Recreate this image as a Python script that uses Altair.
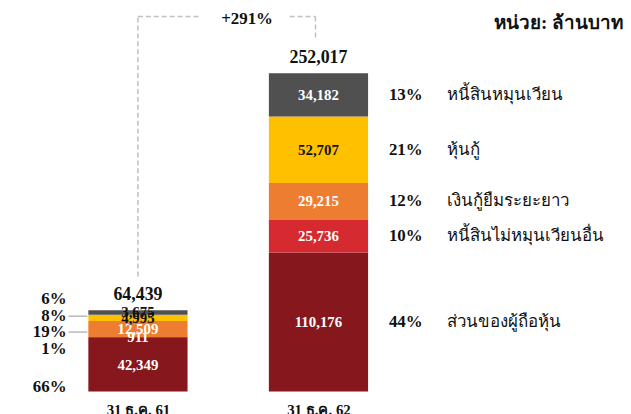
import altair as alt
import pandas as pd

# ---- data ----
periods = ["31 ธ.ค. 61", "31 ธ.ค. 62"]
series = ["ส่วนของผู้ถือหุ้น", "หนี้สินไม่หมุนเวียนอื่น", "เงินกู้ยืมระยะยาว", "หุ้นกู้", "หนี้สินหมุนเวียน"]  # bottom -> top
values_61 = [42349, 911, 12509, 4995, 3675]
values_62 = [110176, 25736, 29215, 52707, 34182]
pct_61 = ["66%", "1%", "19%", "8%", "6%"]
pct_62 = ["44%", "10%", "12%", "21%", "13%"]
totals = [64439, 252017]
growth_label = "+291%"
unit_label = "หน่วย: ล้านบาท"

colors = ["#85171D", "#D52A30", "#ED7D31", "#FFC000", "#505050"]
FONT = "Liberation Serif, Times New Roman, serif"

rows = []
for i, s in enumerate(series):
    rows.append({"period": periods[0], "series": s, "value": values_61[i], "order": i, "pct": pct_61[i]})
    rows.append({"period": periods[1], "series": s, "value": values_62[i], "order": i, "pct": pct_62[i]})
df = pd.DataFrame(rows)
tot_df = pd.DataFrame({"period": periods, "total": totals})

xscale = alt.Scale(type="point", domain=periods, range=[131, 313], padding=0)
yscale = alt.Scale(domain=[0, 300000])

X = alt.X("period:N", scale=xscale,
          axis=alt.Axis(title=None, domain=False, ticks=False, labelPadding=11,
                        labelFontSize=15, labelFontWeight="bold", labelColor="#111",
                        labelFont=FONT, labelAngle=0))

base = alt.Chart(df).transform_stack(
    stack="value", groupby=["period"], as_=["y0", "y1"],
    sort=[alt.SortField("order", order="ascending")]
).transform_calculate(mid="(datum.y0 + datum.y1) / 2")

bars = base.mark_bar(size=100).encode(
    x=X,
    y=alt.Y("y0:Q", scale=yscale, axis=None),
    y2="y1:Q",
    color=alt.Color("series:N", scale=alt.Scale(domain=series, range=colors), legend=None),
)

dark_text_test = ("datum.series == '" + series[3] + "' || (datum.period == '" + periods[0] +
                  "' && datum.series == '" + series[4] + "')")
values_text = base.mark_text(font=FONT, fontSize=15, fontWeight="bold", baseline="middle").encode(
    x=X,
    y=alt.Y("mid:Q", scale=yscale, axis=None),
    text=alt.Text("value:Q", format=","),
    color=alt.condition(dark_text_test, alt.value("#111111"), alt.value("#ffffff")),
)

right_base = base.transform_filter(alt.datum.period == periods[1])
right_pct = right_base.mark_text(font=FONT, fontSize=17, fontWeight="bold", align="left",
                                 baseline="middle", color="#111").encode(
    x=alt.value(384),
    y=alt.Y("mid:Q", scale=yscale, axis=None),
    text="pct:N",
)
right_name = right_base.mark_text(font=FONT, fontSize=17, align="left",
                                  baseline="middle", color="#111").encode(
    x=alt.value(443),
    y=alt.Y("mid:Q", scale=yscale, axis=None),
    text="series:N",
)

totals_text = alt.Chart(tot_df).mark_text(font=FONT, fontSize=18, fontWeight="bold",
                                          baseline="bottom", dy=-6, color="#111").encode(
    x=X,
    y=alt.Y("total:Q", scale=yscale, axis=None),
    text=alt.Text("total:Q", format=","),
)

# left-hand percentages for the first bar (annotation layout)
left_y = [377, 339, 322, 306, 289]  # bottom -> top series
left_layers = []
for i in range(len(series)):
    left_layers.append(
        alt.Chart(pd.DataFrame({"t": [pct_61[i]]})).mark_text(
            font=FONT, fontSize=17, fontWeight="bold", align="right", baseline="middle", color="#111"
        ).encode(x=alt.value(59), y=alt.value(left_y[i]), text="t:N")
    )
leaders = []
for yy in [left_y[3], left_y[2]]:
    leaders.append(
        alt.Chart(pd.DataFrame({"a": [0]})).mark_rule(color="#a6a6a6", strokeWidth=1.2).encode(
            x=alt.value(61), x2=alt.value(80), y=alt.value(yy)
        )
    )

dash = dict(color="#bfbfbf", strokeWidth=1.5, strokeDash=[5, 3])
left_leg = alt.Chart(tot_df).transform_filter(alt.datum.period == periods[0]).mark_rule(
    yOffset=-34, **dash
).encode(x=X, y=alt.Y("total:Q", scale=yscale, axis=None), y2=alt.value(4))
one = pd.DataFrame({"a": [0]})
top_left = alt.Chart(one).mark_rule(**dash).encode(x=alt.value(131), x2=alt.value(194), y=alt.value(4))
top_right = alt.Chart(one).mark_rule(**dash).encode(x=alt.value(284), x2=alt.value(310), y=alt.value(4))
right_leg = alt.Chart(one).mark_rule(**dash).encode(x=alt.value(310), y=alt.value(4), y2=alt.value(25))

growth = alt.Chart(pd.DataFrame({"t": [growth_label]})).mark_text(
    font=FONT, fontSize=17, fontWeight="bold", baseline="middle", color="#111"
).encode(x=alt.value(241), y=alt.value(6), text="t:N")

unit = alt.Chart(pd.DataFrame({"t": [unit_label]})).mark_text(
    font=FONT, fontSize=19, fontWeight="bold", align="right", baseline="middle", color="#111"
).encode(x=alt.value(620), y=alt.value(11), text="t:N")

chart = alt.layer(
    bars, values_text, right_pct, right_name, totals_text, *left_layers, *leaders,
    left_leg, top_left, top_right, right_leg, growth, unit
).properties(width=615, height=382, padding=0, background="white").configure_view(stroke=None)

chart.save("out.html", embed_options={"renderer": "svg", "actions": False})
